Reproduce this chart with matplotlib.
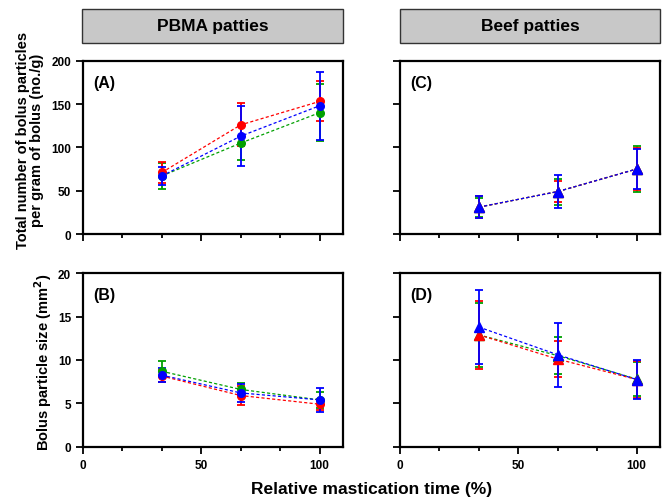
import matplotlib
matplotlib.use("Agg")
import matplotlib.pyplot as plt
from matplotlib.patches import Rectangle
from matplotlib.ticker import MultipleLocator

plt.rcParams['font.family'] = ['Liberation Sans', 'DejaVu Sans']
plt.rcParams['font.weight'] = 'bold'

time_pct = [33.3, 66.7, 100]

# Panel A: PBMA particle number (no./g)
a_red = [71, 126, 153]
a_red_err = [12, 25, 23]
a_green = [67, 105, 140]
a_green_err = [15, 20, 33]
a_blue = [67, 113, 148]
a_blue_err = [10, 35, 39]

# Panel B: PBMA particle size (mm2)
b_red = [8.15, 5.9, 4.9]
b_red_err = [0.7, 1.1, 0.65]
b_green = [8.7, 6.6, 5.4]
b_green_err = [1.2, 0.75, 0.95]
b_blue = [8.25, 6.2, 5.4]
b_blue_err = [0.77, 1.05, 1.4]

# Panel C: Beef particle number (no./g)
c_red = [31, 49, 75]
c_red_err = [13, 12, 24]
c_green = [31, 49, 75]
c_green_err = [11, 15, 26]
c_blue = [31, 49, 75]
c_blue_err = [12.5, 19.5, 23]

# Panel D: Beef particle size (mm2)
d_red = [12.9, 10.1, 7.75]
d_red_err = [3.9, 2.1, 2.1]
d_green = [12.9, 10.5, 7.8]
d_green_err = [3.7, 2.15, 2.0]
d_blue = [13.8, 10.6, 7.75]
d_blue_err = [4.3, 3.7, 2.28]

RED, GREEN, BLUE = '#ff0000', '#00a000', '#0000ff'

W, H = 662, 502
fig = plt.figure(figsize=(W / 100, H / 100), dpi=100)

def rect(l, t, r, b):
    return [l / W, 1 - b / H, (r - l) / W, (b - t) / H]

axA = fig.add_axes(rect(83, 61.7, 343.3, 235))
axC = fig.add_axes(rect(400, 61.7, 660.3, 235))
axB = fig.add_axes(rect(83, 274.3, 343.3, 447.7))
axD = fig.add_axes(rect(400, 274.3, 660.3, 447.7))

def draw(ax, series, marker, ms):
    for y, e, c in series:
        ax.errorbar(time_pct, y, yerr=e, color=c, marker=marker, ms=ms,
                    linestyle=(0, (2.5, 1.8)), lw=0.9, elinewidth=1.3,
                    capsize=3, capthick=1.3, mec=c, mfc=c)

draw(axA, [(a_green, a_green_err, GREEN), (a_red, a_red_err, RED),
           (a_blue, a_blue_err, BLUE)], 'o', 5.5)
draw(axB, [(b_green, b_green_err, GREEN), (b_red, b_red_err, RED),
           (b_blue, b_blue_err, BLUE)], 'o', 5.5)
draw(axC, [(c_green, c_green_err, GREEN), (c_red, c_red_err, RED),
           (c_blue, c_blue_err, BLUE)], '^', 7)
draw(axD, [(d_green, d_green_err, GREEN), (d_red, d_red_err, RED),
           (d_blue, d_blue_err, BLUE)], '^', 7)

for ax in (axA, axC, axB, axD):
    ax.set_xlim(0, 110)
    ax.set_xticks([0, 50, 100])
    ax.xaxis.set_minor_locator(MultipleLocator(100 / 6))
    for s in ax.spines.values():
        s.set_linewidth(1.6)
    ax.tick_params(axis='both', which='major', direction='out', length=5,
                   width=1.3, labelsize=8.5)
    ax.tick_params(axis='x', which='minor', direction='out', length=3, width=1.3)
    for lab in ax.get_xticklabels() + ax.get_yticklabels():
        lab.set_fontweight('bold')

for ax in (axA, axC):
    ax.set_ylim(0, 200)
    ax.set_yticks([0, 50, 100, 150, 200])
    ax.tick_params(axis='x', labelbottom=False)
for ax in (axB, axD):
    ax.set_ylim(0, 20)
    ax.set_yticks([0, 5, 10, 15, 20])
for ax in (axC, axD):
    ax.tick_params(axis='y', labelleft=False)

for ax, lab in [(axA, '(A)'), (axB, '(B)'), (axC, '(C)'), (axD, '(D)')]:
    ax.text(0.04, 0.875, lab, transform=ax.transAxes, fontsize=11.5,
            fontweight='bold', va='center', ha='left')

# header boxes
for l, r, txt in [(82, 343, 'PBMA patties'), (400, 660, 'Beef patties')]:
    fig.patches.append(Rectangle((l / W, 1 - 44 / H), (r - l) / W, 34 / H,
                                 transform=fig.transFigure, facecolor='#c8c8c8',
                                 edgecolor='#333333', lw=1))
    fig.text((l + r) / 2 / W, 1 - 27 / H, txt, ha='center', va='center',
             fontsize=12.5, fontweight='bold')

fig.text(30 / W, 1 - 140 / H,
         'Total number of bolus particles\nper gram of bolus (no./g)',
         rotation=90, ha='center', va='center', fontsize=10.5,
         fontweight='bold', linespacing=1.0)
fig.text(43 / W, 1 - 362 / H, 'Bolus particle size (mm$^\\mathbf{2}$)',
         rotation=90, ha='center', va='center', fontsize=10.5,
         fontweight='bold')
fig.text(372 / W, 1 - 490 / H, 'Relative mastication time (%)',
         ha='center', va='center', fontsize=12.5, fontweight='bold')

fig.savefig('out.png', dpi=100)
